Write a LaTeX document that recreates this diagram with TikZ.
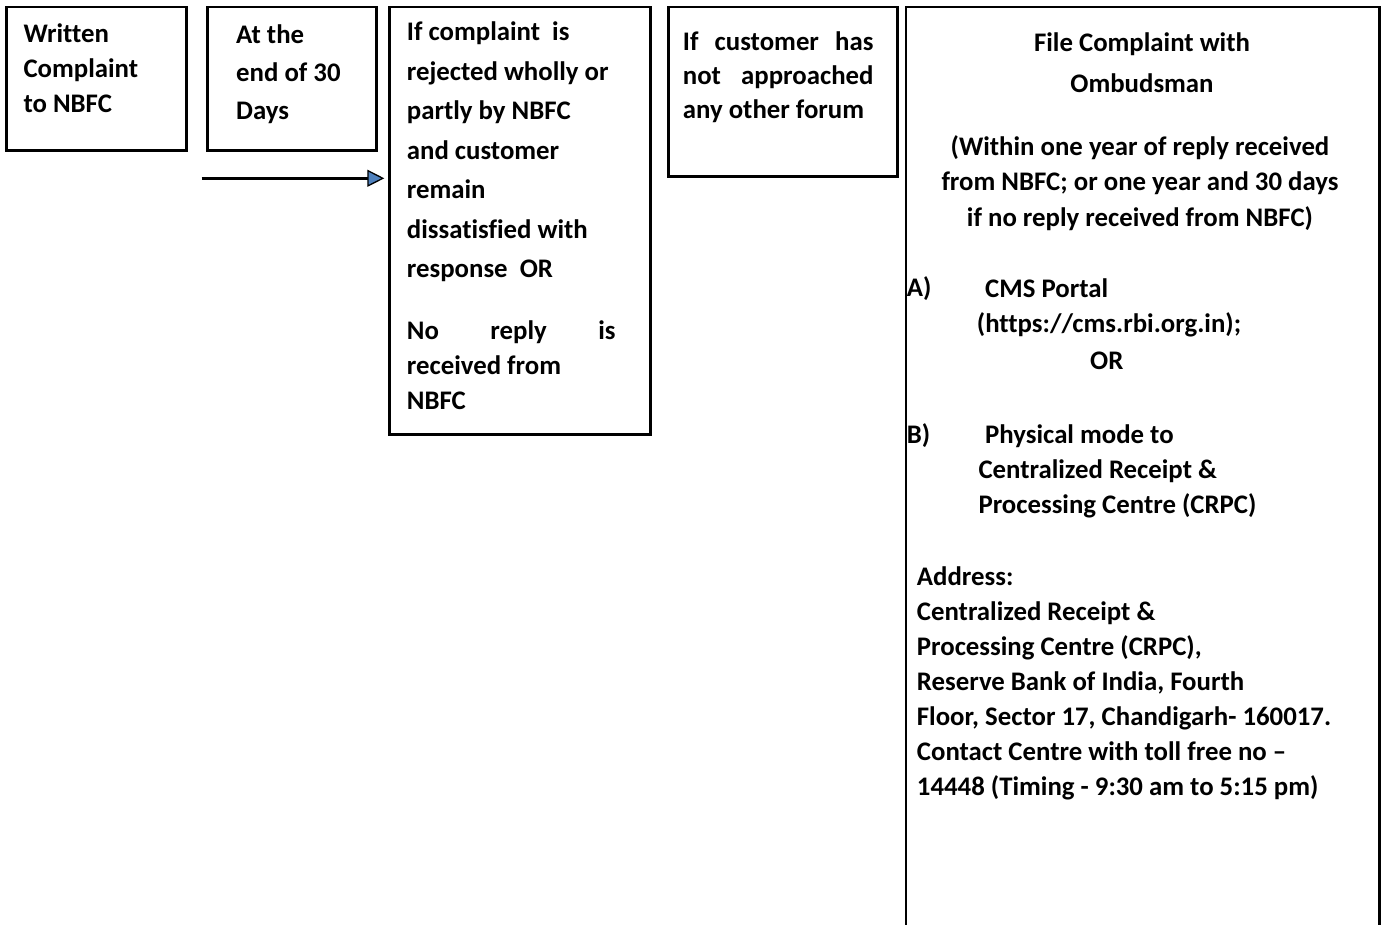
\documentclass[tikz,border=0pt]{standalone}
\usepackage{fontspec}
\setmainfont{Carlito}[Ligatures={TeX,NoCommon}]
\usetikzlibrary{arrows.meta}
\definecolor{tipblue}{HTML}{4F81BD}

\begin{document}
\begin{tikzpicture}[x=1pt, y=-1pt,
  box/.style={draw, line width=2.6pt, outer sep=0pt, inner sep=0pt, anchor=north west},
  txt/.style={anchor=base west, align=left, inner sep=0pt, font=\fontsize{26.8}{#1}\selectfont\bfseries},
  txt/.default=35,
  mid/.style={txt=#1, anchor=base, align=center},
  mid/.default=35,
  flow/.style={line width=2.6pt, -{Triangle[length=17pt, width=17pt, line width=1.3pt, fill=tipblue]}, shorten >=5pt}]
\path[use as bounding box, clip] (0,0) rectangle (1386,925);
% boxes
\node[box, minimum width=180.2pt, minimum height=143.5pt] (written) at (6.3,7) {};
\node[box, minimum width=168.8pt, minimum height=143.5pt] (days) at (207.7,7) {};
\node[box, minimum width=261.2pt, minimum height=427.5pt] (reject) at (389.3,7) {};
\node[box, minimum width=229pt, minimum height=169.5pt] (forum) at (668.5,7) {};
\node[box, minimum width=473.5pt, minimum height=993pt] (ombud) at (906,7) {};
% texts (placed by the baseline of their last line)
\node[txt] (writtentxt) at (23.3,113) {Written\\Complaint\\to NBFC};
\node[txt=38] (daystxt) at (236,120) {At the\\end of 30\\Days};
\node[txt=39.5] (rejecttxt) at (406.7,409.5) {If complaint\ \ is\\rejected wholly or\\partly by NBFC\\and customer\\remain\\dissatisfied with\\response\ \ OR\\[22.5pt]\makebox[208.6pt][s]{No reply is}\\[-4.5pt]received from\\[-4.5pt]NBFC};
\node[txt=34] (forumtxt) at (682.7,118.5) {\makebox[190.6pt][s]{If customer has}\\\makebox[190.6pt][s]{not approached}\\any other forum};
\node[mid=40.7] (ombudtitle) at (1142,92.7) {File Complaint with\\Ombudsman};
\node[mid=35.5] (ombudlimit) at (1140,226.5) {(Within one year of reply received\\from NBFC; or one year and 30 days\\if no reply received from NBFC)};
\node[txt] (labela) at (906.7,296.5) {A)};
\node[txt] (cms) at (976.7,369.8) {\hspace*{8.3pt}CMS Portal\\(https://cms.rbi.org.in);\\[2pt]\hspace*{113.3pt}OR};
\node[txt] (labelb) at (906.7,443.7) {B)};
\node[txt] (crpc) at (978.3,513.7) {\hspace*{6.7pt}Physical mode to\\Centralized Receipt \&\\Processing Centre (CRPC)};
\node[txt] (addr) at (916.7,795.3) {Address:\\Centralized Receipt \&\\Processing Centre (CRPC),\\Reserve Bank of India, Fourth\\Floor, Sector 17, Chandigarh- 160017.\\Contact Centre with toll free no –\\14448 (Timing - 9:30 am to 5:15 pm)};
% arrow
\coordinate (tail) at (201.7,178.3);
\draw[flow] (tail) -- (tail -| reject.west);
\end{tikzpicture}
\end{document}
